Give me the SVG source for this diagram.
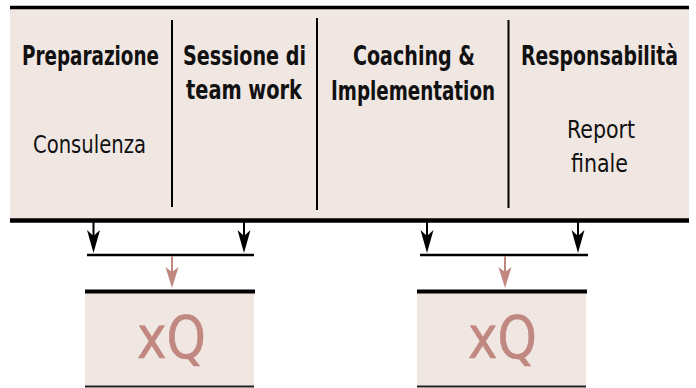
<svg xmlns="http://www.w3.org/2000/svg" width="696" height="388" viewBox="0 0 696 388">
<style>
.band{fill:#f0e6e2}
.thick{stroke:#000;stroke-width:4;fill:none}
.thin{stroke:#000;stroke-width:2.4;fill:none}
.div{stroke:#000;stroke-width:2;fill:none}
.h{font-family:"Liberation Sans Narrow","DejaVu Sans Condensed","DejaVu Sans",sans-serif;font-weight:bold;font-size:26.5px;fill:#111}
.r{font-family:"Liberation Sans Narrow","DejaVu Sans Condensed","DejaVu Sans",sans-serif;font-size:25.5px;fill:#111}
.xq{font-family:"DejaVu Sans Condensed","DejaVu Sans",sans-serif;font-size:59px;fill:#c08880;stroke:#c08880;stroke-width:0.6}
.blk{stroke:#000;stroke-width:2}
.pnk{stroke:#c08880;stroke-width:2}
</style>
<defs>
<path id="ahB" d="M0,0 L-6.5,-23 L0,-17 L6.5,-23 Z" fill="#000"/>
<path id="ahP" d="M0,0 L-6.5,-21 L0,-16 L6.5,-21 Z" fill="#c08880"/>
</defs>
<g id="header">
<rect class="band" x="10" y="9" width="679" height="211"/>
<line class="thick" x1="10" y1="7.5" x2="689" y2="7.5" style="stroke-width:3.5"/>
<line class="thick" x1="10" y1="220.5" x2="689" y2="220.5" style="stroke-width:4.5"/>
<line class="div" x1="172" y1="20" x2="172" y2="207"/>
<line class="div" x1="317" y1="18" x2="317" y2="210"/>
<line class="div" x1="508.5" y1="20" x2="508.5" y2="208"/>
</g>
<g id="col-preparazione">
<text class="h" x="22" y="65" textLength="137" lengthAdjust="spacingAndGlyphs">Preparazione</text>
<text class="r" x="33" y="153" textLength="113" lengthAdjust="spacingAndGlyphs">Consulenza</text>
</g>
<g id="col-sessione">
<text class="h" x="183" y="65" textLength="123" lengthAdjust="spacingAndGlyphs">Sessione di</text>
<text class="h" x="186" y="99" textLength="116" lengthAdjust="spacingAndGlyphs">team work</text>
</g>
<g id="col-coaching">
<text class="h" x="353" y="65" textLength="122" lengthAdjust="spacingAndGlyphs">Coaching &amp;</text>
<text class="h" x="331" y="99.5" textLength="164" lengthAdjust="spacingAndGlyphs">Implementation</text>
</g>
<g id="col-responsabilita">
<text class="h" x="521" y="65" textLength="157" lengthAdjust="spacingAndGlyphs">Responsabilità</text>
<text class="r" x="567" y="138" textLength="68" lengthAdjust="spacingAndGlyphs">Report</text>
<text class="r" x="571" y="172" textLength="57" lengthAdjust="spacingAndGlyphs">finale</text>
</g>
<g id="join-left">
<line class="thin" x1="87" y1="255" x2="254" y2="255"/>
</g>
<g id="join-right">
<line class="thin" x1="420" y1="255" x2="588" y2="255"/>
</g>
<g id="box-left">
<rect class="band" x="85" y="293" width="169" height="93"/>
<line class="thick" x1="85" y1="291.5" x2="255" y2="291.5"/>
<line x1="85" y1="386.5" x2="254" y2="386.5" stroke="#222" stroke-width="2"/>
<text class="xq" x="137" y="358" textLength="69" lengthAdjust="spacingAndGlyphs">xQ</text>
</g>
<g id="box-right">
<rect class="band" x="417" y="293" width="169" height="93"/>
<line class="thick" x1="417" y1="291.5" x2="587" y2="291.5"/>
<line x1="417" y1="386.5" x2="586" y2="386.5" stroke="#222" stroke-width="2"/>
<text class="xq" x="468" y="358" textLength="69" lengthAdjust="spacingAndGlyphs">xQ</text>
</g>
<g id="connectors">
<line class="blk" x1="93.5" y1="222" x2="93.5" y2="240"/>
<use href="#ahB" x="93.5" y="253"/>
<line class="blk" x1="244" y1="222" x2="244" y2="240"/>
<use href="#ahB" x="244" y="253"/>
<line class="blk" x1="427" y1="222" x2="427" y2="240"/>
<use href="#ahB" x="427" y="253"/>
<line class="blk" x1="578" y1="222" x2="578" y2="240"/>
<use href="#ahB" x="578" y="253"/>
<line class="pnk" x1="172" y1="256" x2="172" y2="275"/>
<use href="#ahP" x="172" y="288"/>
<line class="pnk" x1="505" y1="256" x2="505" y2="275"/>
<use href="#ahP" x="505" y="288"/>
</g>
</svg>
